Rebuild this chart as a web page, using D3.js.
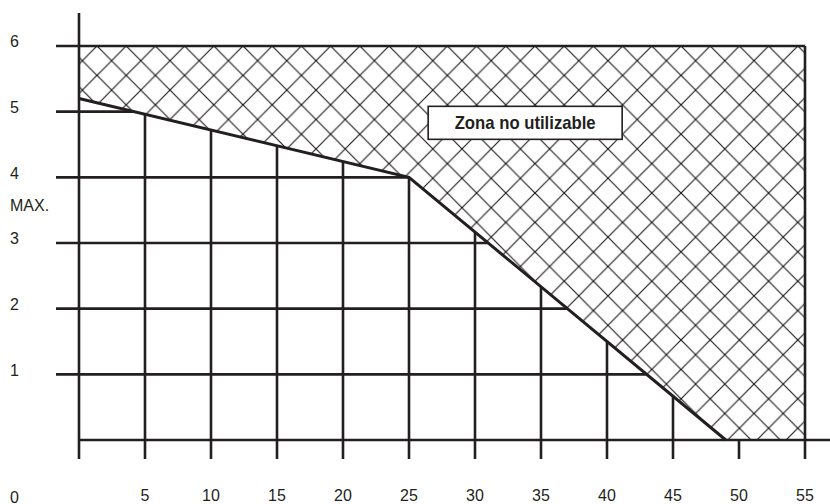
<!DOCTYPE html>
<html>
<head>
<meta charset="utf-8">
<script src="https://cdn.jsdelivr.net/npm/d3@7"></script>
<style>
  body { margin: 0; background: #fff; }
  text { font-family: "Liberation Sans", Arial, Helvetica, sans-serif; fill: #231f20; }
</style>
</head>
<body>
<div id="chart"></div>
<script>
// chart values
const X_TICKS = [5, 10, 15, 20, 25, 30, 35, 40, 45, 50, 55];
const Y_TICKS = [1, 2, 3, 4, 5, 6];
const Y_LABELS = [
  {v: 6, t: "6"}, {v: 5, t: "5"}, {v: 4, t: "4"},
  {v: 3.5, t: "MAX."}, {v: 3, t: "3"}, {v: 2, t: "2"}, {v: 1, t: "1"}
];
// limit curve (x, max value)
const LIMIT = [[0, 5.2], [25, 4.0], [49, 0]];
const X_MAX = 55;
const Y_MAX = 6;
const ZONE_LABEL = "Zona no utilizable";

const F_WIDTH = 830;
const F_HEIGHT = 504;
const INK = "#231f20";

const X_SCALE = d3.scaleLinear().domain([0, X_MAX]).range([79, 805]);
const Y_SCALE = d3.scaleLinear().domain([0, Y_MAX]).range([440, 46]);

const FRAME = d3.select("#chart")
  .append("svg")
    .attr("width", F_WIDTH)
    .attr("height", F_HEIGHT);

FRAME.append("rect").attr("width", F_WIDTH).attr("height", F_HEIGHT).attr("fill", "#fff");

// cross hatch pattern
const pat = FRAME.append("defs").append("pattern")
  .attr("id", "hatch")
  .attr("patternUnits", "userSpaceOnUse")
  .attr("x", 97).attr("y", 46)
  .attr("width", 29.2).attr("height", 29.4);
pat.append("path")
  .attr("d", "M0,0L29.2,29.4M29.2,0L0,29.4M-1,-1L1,1M28.2,28.4L30.2,30.4")
  .attr("stroke", INK).attr("stroke-width", 1.2).attr("fill", "none");

// value of the limit curve at x, and x where the curve reaches y
function curveAt(x) {
  for (let i = 0; i < LIMIT.length - 1; i++) {
    const [x0, y0] = LIMIT[i], [x1, y1] = LIMIT[i + 1];
    if (x >= x0 && x <= x1) return y0 + (y1 - y0) * (x - x0) / (x1 - x0);
  }
  return 0;
}
function xAt(y) {
  for (let i = 0; i < LIMIT.length - 1; i++) {
    const [x0, y0] = LIMIT[i], [x1, y1] = LIMIT[i + 1];
    if (y <= y0 && y >= y1) return x0 + (x1 - x0) * (y0 - y) / (y0 - y1);
  }
  return X_MAX;
}

// hatched zone above the curve
const zone = [[0, Y_MAX], [X_MAX, Y_MAX], [X_MAX, 0]].concat(LIMIT.slice().reverse());
const line = d3.line().x(d => X_SCALE(d[0])).y(d => Y_SCALE(d[1]));
FRAME.append("path")
  .attr("d", line(zone) + "Z")
  .attr("fill", "url(#hatch)")
  .attr("stroke", "none");

const TICK = 20;
const yBottom = Y_SCALE(0);

// horizontal grid lines (stop at the curve)
FRAME.append("g").selectAll("line")
  .data(Y_TICKS)
  .enter().append("line")
    .attr("x1", X_SCALE(0) - 23)
    .attr("x2", d => d >= Y_MAX ? X_SCALE(X_MAX) : X_SCALE(xAt(d)))
    .attr("y1", d => Y_SCALE(d))
    .attr("y2", d => Y_SCALE(d))
    .attr("stroke", INK).attr("stroke-width", 2.6);

// vertical grid lines (stop at the curve)
FRAME.append("g").selectAll("line")
  .data(X_TICKS)
  .enter().append("line")
    .attr("x1", d => X_SCALE(d))
    .attr("x2", d => X_SCALE(d))
    .attr("y1", yBottom + TICK - 1)
    .attr("y2", d => d >= X_MAX ? Y_SCALE(Y_MAX) : Y_SCALE(curveAt(d)))
    .attr("stroke", INK).attr("stroke-width", 2.6);

// axes
FRAME.append("line")
  .attr("x1", X_SCALE(0)).attr("x2", X_SCALE(0))
  .attr("y1", 13).attr("y2", yBottom + TICK - 1)
  .attr("stroke", INK).attr("stroke-width", 2.6);
FRAME.append("line")
  .attr("x1", X_SCALE(0)).attr("x2", F_WIDTH)
  .attr("y1", yBottom).attr("y2", yBottom)
  .attr("stroke", INK).attr("stroke-width", 2.6);

// limit curve
FRAME.append("path")
  .attr("d", line(LIMIT))
  .attr("fill", "none")
  .attr("stroke", INK).attr("stroke-width", 3)
  .attr("stroke-linejoin", "miter");

// y labels
FRAME.append("g").selectAll("text")
  .data(Y_LABELS)
  .enter().append("text")
    .attr("x", 10)
    .attr("y", d => Y_SCALE(d.v) - 3)
    .attr("dominant-baseline", "middle")
    .attr("font-size", 16)
    .text(d => d.t);

// x labels
FRAME.append("g").selectAll("text")
  .data(X_TICKS)
  .enter().append("text")
    .attr("x", d => X_SCALE(d))
    .attr("y", 501)
    .attr("text-anchor", "middle")
    .attr("font-size", 16)
    .text(d => d);

FRAME.append("text")
  .attr("x", 10).attr("y", 503)
  .attr("font-size", 16)
  .text("0");

// zone label
const lx = X_SCALE(33.8), ly = Y_SCALE(4.83);
FRAME.append("rect")
  .attr("x", lx - 97).attr("y", ly - 16.5)
  .attr("width", 194).attr("height", 33)
  .attr("fill", "#fff")
  .attr("stroke", INK).attr("stroke-width", 1.6);
FRAME.append("text")
  .attr("x", lx).attr("y", ly + 6.5)
  .attr("text-anchor", "middle")
  .attr("font-size", 19)
  .attr("font-weight", "bold")
  .attr("textLength", 141)
  .attr("lengthAdjust", "spacingAndGlyphs")
  .text(ZONE_LABEL);
</script>
</body>
</html>
